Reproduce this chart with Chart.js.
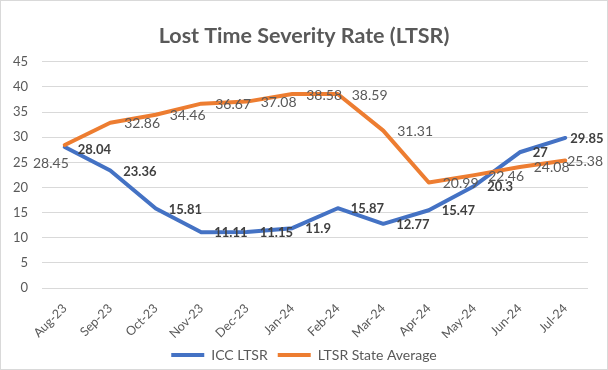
<!DOCTYPE html>
<html>
<head>
<meta charset="utf-8">
<script src="https://cdn.jsdelivr.net/npm/chart.js@4.4.1/dist/chart.umd.min.js"></script>
<style>
  body { margin: 0; background: #fff; }
  #wrap { width: 608px; height: 370px; box-sizing: border-box; border: 1px solid #d9d9d9; background: #fff; }
</style>
</head>
<body>
<div id="wrap"><canvas id="chart" width="606" height="368"></canvas></div>
<script>
const months = ["Aug-23", "Sep-23", "Oct-23", "Nov-23", "Dec-23", "Jan-24",
  "Feb-24", "Mar-24", "Apr-24", "May-24", "Jun-24", "Jul-24"];
const iccLtsr = [28.04, 23.36, 15.81, 11.11, 11.15, 11.9, 15.87, 12.77, 15.47, 20.3, 27, 29.85];
const stateAvg = [28.45, 32.86, 34.46, 36.67, 37.08, 38.58, 38.59, 31.31, 20.99, 22.46, 24.08, 25.38];
const yMin = 0, yMax = 45, yStep = 5;

const grey = "#595959";
const font = "Lato";

// draws the value next to each point, like excel data labels
const pointLabels = {
  id: "pointLabels",
  afterDatasetsDraw(chart) {
    const ctx = chart.ctx;
    chart.data.datasets.forEach((ds, i) => {
      const lab = ds.valueLabels;
      const meta = chart.getDatasetMeta(i);
      ctx.save();
      ctx.font = lab.font;
      ctx.fillStyle = lab.color;
      ctx.textBaseline = "middle";
      meta.data.forEach((pt, j) => {
        const o = (lab.moved && lab.moved[j]) || {};
        ctx.textAlign = o.align || "left";
        const dx = o.dx !== undefined ? o.dx : lab.dx;
        const dy = o.dy !== undefined ? o.dy : lab.dy;
        ctx.fillText(String(ds.data[j]), pt.x + dx, pt.y + dy);
      });
      ctx.restore();
    });
  }
};

new Chart(document.getElementById("chart"), {
  type: "line",
  data: {
    labels: months,
    datasets: [
      {
        label: "ICC LTSR",
        data: iccLtsr,
        borderColor: "#4472C4",
        backgroundColor: "#4472C4",
        borderWidth: 4,
        borderCapStyle: "round",
        borderJoinStyle: "round",
        pointRadius: 0,
        tension: 0,
        order: 1,
        valueLabels: {
          font: "bold 13px Lato", color: "#404040", dx: 13, dy: 1,
          moved: { 0: { dy: 3 }, 11: { dx: 5 } }
        }
      },
      {
        label: "LTSR State Average",
        data: stateAvg,
        borderColor: "#ED7D31",
        backgroundColor: "#ED7D31",
        borderWidth: 4,
        borderCapStyle: "round",
        borderJoinStyle: "round",
        pointRadius: 0,
        tension: 0,
        order: 0,
        valueLabels: {
          font: "14px Lato", color: grey, dx: 14, dy: 1,
          moved: { 0: { align: "right", dx: 4, dy: 18 }, 11: { dx: 2 } }
        }
      }
    ]
  },
  options: {
    responsive: false,
    animation: false,
    layout: { padding: 0 },
    plugins: {
      title: {
        display: true,
        text: "Lost Time Severity Rate (LTSR)",
        color: grey,
        font: { family: font, size: 21.5, weight: "bold" },
        padding: { top: 22, bottom: 13 }
      },
      legend: {
        position: "bottom",
        maxHeight: 31,
        labels: {
          color: grey,
          font: { family: font, size: 14 },
          usePointStyle: true,
          pointStyle: "line",
          pointStyleWidth: 33,
          padding: 10,
          sort: (a, b) => a.datasetIndex - b.datasetIndex
        }
      },
      tooltip: { enabled: false }
    },
    scales: {
      x: {
        offset: true,
        grid: { display: false },
        border: { display: false },
        ticks: {
          color: grey,
          font: { family: font, size: 12.5 },
          minRotation: 45,
          maxRotation: 45,
          padding: 5
        },
        afterFit: (scale) => { scale.height = 50; }
      },
      y: {
        min: yMin,
        max: yMax,
        grid: { color: "#d9d9d9", lineWidth: 1, drawTicks: false },
        border: { display: false },
        ticks: {
          stepSize: yStep,
          color: grey,
          font: { family: font, size: 13 },
          padding: 14
        },
        afterFit: (scale) => { scale.width = 41; }
      },
      // empty right axis, only keeps the right margin so title/legend stay centred
      yRight: {
        position: "right",
        grid: { display: false },
        border: { display: false },
        ticks: { display: false },
        afterFit: (scale) => { scale.width = 19; }
      }
    }
  },
  plugins: [pointLabels]
});
</script>
</body>
</html>
